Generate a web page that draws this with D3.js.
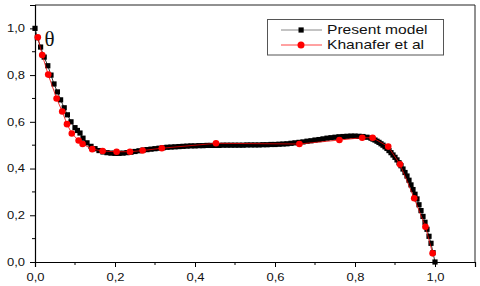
<!DOCTYPE html>
<html>
<head>
<meta charset="utf-8">
<script src="https://cdn.jsdelivr.net/npm/d3@7"></script>
<style>
  body { margin: 0; background: #fff; }
  svg { display: block; font-family: Arial, "Liberation Sans", sans-serif; }
</style>
</head>
<body>
<div id="chart"></div>
<script>
// Present model (black squares)
const presentX = [0, 0.006, 0.014, 0.023, 0.032, 0.04, 0.0475, 0.056, 0.064, 0.073, 0.081, 0.09, 0.1, 0.106, 0.1125,
  0.12, 0.13, 0.14, 0.15, 0.16, 0.17, 0.18, 0.19, 0.2, 0.21, 0.22, 0.23, 0.24, 0.25, 0.26, 0.27, 0.28, 0.29, 0.3,
  0.31, 0.32, 0.33, 0.34, 0.35, 0.36, 0.37, 0.38, 0.39, 0.4, 0.41, 0.42, 0.43, 0.44, 0.45, 0.46, 0.47, 0.48, 0.49, 0.5,
  0.51, 0.52, 0.53, 0.54, 0.55, 0.56, 0.57, 0.58, 0.59, 0.6, 0.61, 0.62, 0.63, 0.64, 0.65, 0.66, 0.67, 0.68, 0.69, 0.7,
  0.71, 0.72, 0.73, 0.74, 0.75, 0.76, 0.77, 0.78, 0.79, 0.8, 0.81, 0.82, 0.83, 0.84, 0.845, 0.85, 0.855, 0.86, 0.865,
  0.87, 0.875, 0.88, 0.885, 0.89, 0.895, 0.9, 0.905, 0.91, 0.915, 0.92, 0.925, 0.93, 0.935, 0.94, 0.945, 0.95, 0.955,
  0.96, 0.965, 0.97, 0.975, 0.98, 0.985, 0.99, 0.995, 1.0];
const presentY = [1.0, 0.96, 0.92, 0.877, 0.84, 0.8, 0.762, 0.728, 0.694, 0.66, 0.63, 0.6, 0.575, 0.563, 0.552,
  0.53, 0.51, 0.495, 0.485, 0.477, 0.471, 0.468, 0.466, 0.465, 0.465, 0.466, 0.468, 0.47, 0.473, 0.476, 0.479, 0.481, 0.483, 0.485,
  0.487, 0.489, 0.491, 0.492, 0.493, 0.494, 0.495, 0.496, 0.497, 0.497, 0.498, 0.498, 0.499, 0.499, 0.499, 0.499, 0.5, 0.5, 0.5, 0.5,
  0.5, 0.5, 0.501, 0.501, 0.501, 0.501, 0.502, 0.502, 0.503, 0.503, 0.504, 0.505, 0.506, 0.508, 0.51, 0.512, 0.514, 0.517, 0.519, 0.522,
  0.524, 0.527, 0.53, 0.532, 0.534, 0.536, 0.537, 0.538, 0.539, 0.539, 0.538, 0.537, 0.534, 0.53, 0.526, 0.522, 0.517, 0.512, 0.506,
  0.5, 0.493, 0.486, 0.477, 0.468, 0.458, 0.448, 0.437, 0.425, 0.412, 0.398, 0.383, 0.368, 0.35, 0.33, 0.31, 0.29, 0.27,
  0.245, 0.22, 0.195, 0.17, 0.14, 0.11, 0.08, 0.04, 0];

// Khanafer et al (red circles)
const khanaferX = [0.007, 0.018, 0.033, 0.054, 0.068, 0.08, 0.092, 0.109, 0.119, 0.143, 0.169, 0.204, 0.2375,
  0.269, 0.317, 0.4525, 0.661, 0.761, 0.818, 0.844, 0.883, 0.9125, 0.948, 0.976, 0.994];
const khanaferY = [0.962, 0.886, 0.802, 0.7, 0.644, 0.59, 0.55, 0.52, 0.505, 0.483, 0.475, 0.472, 0.472,
  0.477, 0.487, 0.508, 0.505, 0.522, 0.532, 0.532, 0.494, 0.418, 0.273, 0.151, 0.037];

const xMajor = [0, 0.2, 0.4, 0.6, 0.8, 1.0];
const yMajor = [0, 0.2, 0.4, 0.6, 0.8, 1.0];
const minorTicks = [0.1, 0.3, 0.5, 0.7, 0.9];
const legendLabels = ["Present model", "Khanafer et al"];

const width = 480, height = 286;
const stretch = 1.3; // texte élargi comme dans l'image d'origine

const svg = d3.select("#chart").append("svg")
  .attr("width", width)
  .attr("height", height);

const x = d3.scaleLinear().domain([0, 1.1]).range([35, 475]);
const y = d3.scaleLinear().domain([0, 1.1]).range([262, 5]);
const fmt = d => d3.format(".1f")(d).replace(".", ",");

// Cadre haut et droite
svg.append("path")
  .attr("d", `M${x(0)},${y(1.1)}H${x(1.1)}V${y(0)}`)
  .attr("fill", "none")
  .attr("stroke", "#222")
  .attr("stroke-width", 1);

// Axe X
const gx = svg.append("g").attr("transform", `translate(0,${y(0)})`)
  .call(d3.axisBottom(x).tickValues(xMajor).tickFormat(fmt).tickSizeOuter(0).tickSize(5).tickPadding(4));
gx.append("g").selectAll("line").data(minorTicks).join("line")
  .attr("x1", d => x(d)).attr("x2", d => x(d)).attr("y1", 0).attr("y2", 3)
  .attr("stroke", "#000");

// Axe Y
const gy = svg.append("g").attr("transform", `translate(${x(0)},0)`)
  .call(d3.axisLeft(y).tickValues(yMajor).tickFormat(fmt).tickSizeOuter(0).tickSize(5).tickPadding(4));
gy.append("g").selectAll("line").data(minorTicks).join("line")
  .attr("y1", d => y(d)).attr("y2", d => y(d)).attr("x1", 0).attr("x2", -3)
  .attr("stroke", "#000");

[gx, gy].forEach(g => {
  g.select(".domain").attr("stroke", "#000").attr("stroke-width", 1.2);
  g.selectAll(".tick line").attr("stroke", "#000");
  g.selectAll(".tick text")
    .attr("font-size", 10)
    .attr("font-family", "Arial, 'Liberation Sans', sans-serif")
    .attr("fill", "#111");
});
gx.selectAll(".tick text").attr("transform", `scale(${stretch},1)`).attr("dy", "1em");
gy.selectAll(".tick text").attr("x", -10 / stretch).attr("transform", `scale(${stretch},1)`);

// Données
const present = presentX.map((d, i) => [d, presentY[i]]);
const khanafer = khanaferX.map((d, i) => [d, khanaferY[i]]);
const line = d3.line().x(d => x(d[0])).y(d => y(d[1]));

svg.append("path").datum(present)
  .attr("d", line).attr("fill", "none").attr("stroke", "#333").attr("stroke-width", 1);
svg.append("g").selectAll("rect").data(present).join("rect")
  .attr("x", d => x(d[0]) - 2.6).attr("y", d => y(d[1]) - 2.6)
  .attr("width", 5.2).attr("height", 5.2).attr("fill", "#000");

svg.append("path").datum(khanafer)
  .attr("d", line).attr("fill", "none").attr("stroke", "#e00").attr("stroke-width", 0.8);
svg.append("g").selectAll("circle").data(khanafer).join("circle")
  .attr("cx", d => x(d[0])).attr("cy", d => y(d[1]))
  .attr("r", 3.3).attr("fill", "#f00");

// Symbole theta
svg.append("text")
  .attr("x", 44.5).attr("y", 46)
  .attr("font-family", "'Times New Roman', 'Liberation Serif', serif")
  .attr("font-size", 21)
  .attr("fill", "#111")
  .text("θ");

// Légende
const leg = svg.append("g");
leg.append("rect")
  .attr("x", 267.5).attr("y", 19.5).attr("width", 176).attr("height", 35.5)
  .attr("fill", "#fff").attr("stroke", "#555").attr("stroke-width", 1);
legendLabels.forEach((lab, i) => {
  const ly = 30 + i * 15;
  leg.append("line").attr("x1", 281).attr("x2", 322).attr("y1", ly).attr("y2", ly)
    .attr("stroke", i === 0 ? "#888" : "#f44").attr("stroke-width", 1);
  if (i === 0) {
    leg.append("rect").attr("x", 298.5).attr("y", ly - 2.6).attr("width", 5.2).attr("height", 5.2).attr("fill", "#000");
  } else {
    leg.append("circle").attr("cx", 301).attr("cy", ly).attr("r", 3.5).attr("fill", "#f00");
  }
  leg.append("text")
    .attr("transform", `translate(327,${ly + 4.3}) scale(${stretch},1)`)
    .attr("font-size", 12)
    .attr("fill", "#111")
    .text(lab);
});
</script>
</body>
</html>
